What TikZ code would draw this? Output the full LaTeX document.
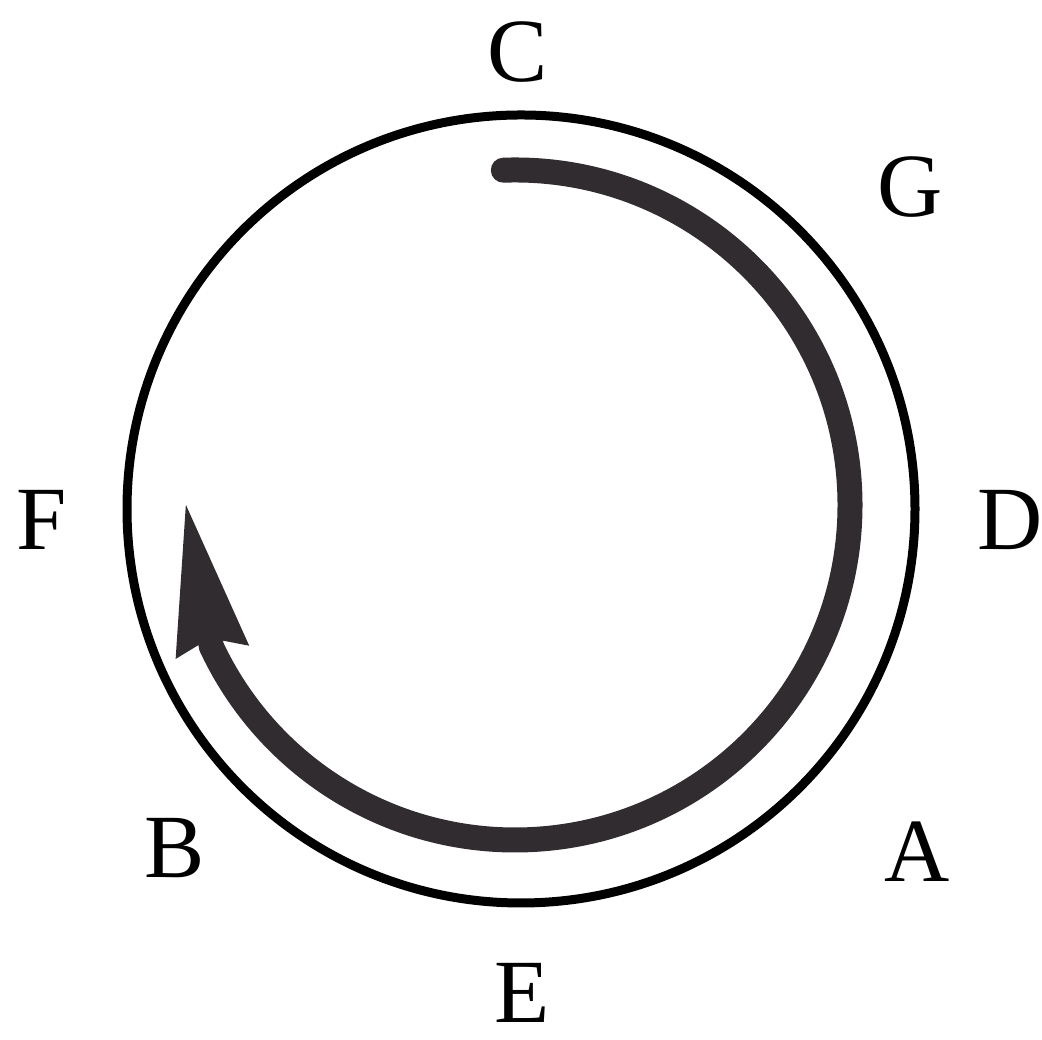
\documentclass[tikz,border=0pt]{standalone}
\usepackage{fontspec}
\setmainfont{Liberation Serif}
\usetikzlibrary{arrows.meta, calc}
\definecolor{brushgray}{RGB}{48,44,48}

\begin{document}
\begin{tikzpicture}[
  lbl/.style={inner sep=0pt, font=\fontsize{25.7}{30}\selectfont},
  dial/.style={draw=black, line width=0.09cm},
  brush/.style={draw=brushgray, line width=0.25cm, line cap=round, -{Stealth[length=15mm, width=6.8mm, inset=1mm]}}
]
  \useasboundingbox (0,0) rectangle (10.42,10.40);

  \node[dial, circle, minimum size=7.88cm, inner sep=0pt] (ring) at (5.21,5.31) {};

  \node[lbl] (lblC) at (5.18,9.88) {C};
  \node[lbl] (lblG) at (9.10,8.53) {G};
  \node[lbl] (lblD) at (10.10,5.20) {D};
  \node[lbl] (lblA) at (9.17,1.88) {A};
  \node[lbl] (lblE) at (5.22,0.47) {E};
  \node[lbl] (lblB) at (1.75,1.92) {B};
  \node[lbl] (lblF) at (0.42,5.20) {F};

  % brush stroke round the inside
  \coordinate (tip) at (1.85,5.40);
  \draw[brush] ($(5.15,5.35)+(92:3.35)$) arc[start angle=92, end angle=-155, radius=3.35] -- (tip);
\end{tikzpicture}
\end{document}
